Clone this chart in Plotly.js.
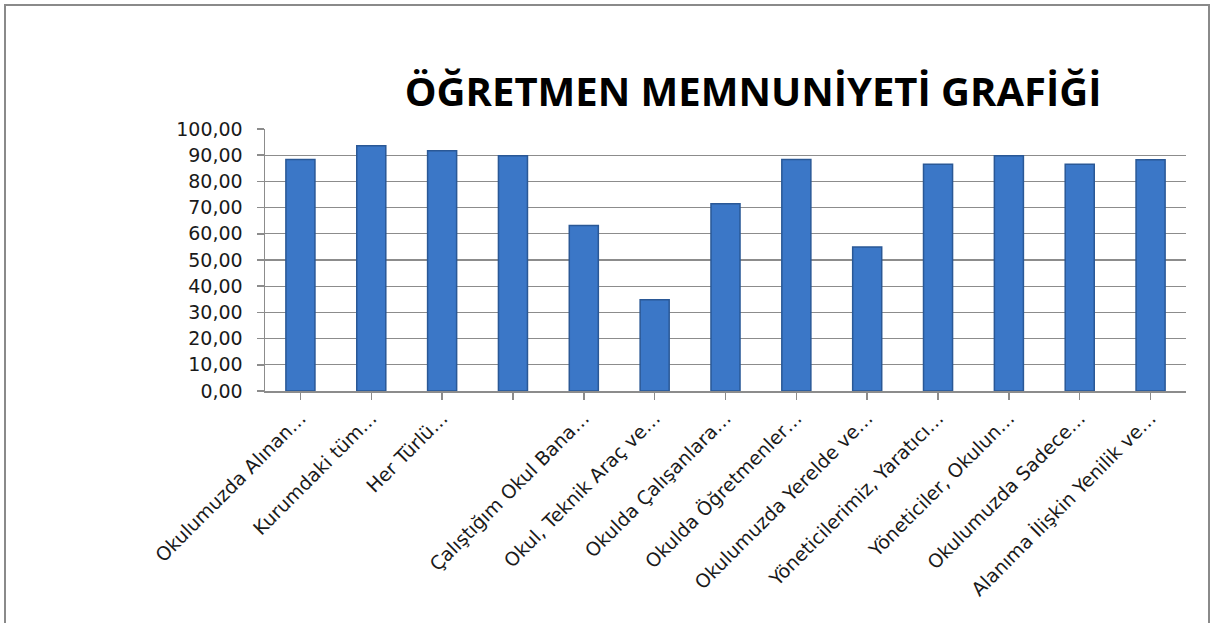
<!DOCTYPE html>
<html>
<head>
<meta charset="utf-8">
<script src="https://cdn.plot.ly/plotly-3.0.1.min.js"></script>
<style>
  html, body { margin:0; padding:0; background:#fff; overflow:hidden; width:1216px; height:623px; }
  #frame { position:absolute; left:4px; top:4px; width:1206px; height:700px; border:2px solid #8a8a8a; box-sizing:border-box; }
  #chart { position:absolute; left:0; top:0; width:1216px; height:623px; }
</style>
</head>
<body>
<div id="frame"></div>
<div id="chart"></div>
<script>
const categories = [
  "Okulumuzda Alınan…",
  "Kurumdaki tüm…",
  "Her Türlü…",
  " ",
  "Çalıştığım Okul Bana…",
  "Okul, Teknik Araç ve…",
  "Okulda Çalışanlara…",
  "Okulda Öğretmenler…",
  "Okulumuzda Yerelde ve…",
  "Yöneticilerimiz, Yaratıcı…",
  "Yöneticiler, Okulun…",
  "Okulumuzda Sadece…",
  "Alanıma İlişkin Yenilik ve…"
];
const values = [88.4, 93.6, 91.7, 89.8, 63.2, 34.8, 71.5, 88.4, 55.0, 86.5, 89.8, 86.5, 88.3];
const yTicks = [0, 10, 20, 30, 40, 50, 60, 70, 80, 90, 100];
const titleText = "ÖĞRETMEN MEMNUNİYETİ GRAFİĞİ";

const trace = {
  type: 'bar',
  x: categories.map((c, i) => i),
  y: values,
  marker: { color: '#3b77c7', line: { color: '#2a5896', width: 1.5 } },
  hoverinfo: 'skip'
};

const tickFont = { size: 19, family: 'DejaVu Sans, sans-serif', color: '#1a1a1a' };

const layout = {
  width: 1216, height: 623,
  margin: { l: 265, r: 30, t: 129, b: 232 },
  paper_bgcolor: 'rgba(0,0,0,0)',
  plot_bgcolor: 'rgba(0,0,0,0)',
  separators: ',.',
  bargap: 0.59,
  showlegend: false,
  font: { family: 'DejaVu Sans, sans-serif', color: '#1a1a1a' },
  title: {
    text: '<b>' + titleText + '</b>',
    font: { family: 'Open Sans, sans-serif', size: 40, color: '#000' },
    xref: 'paper', x: 0.53, xanchor: 'center',
    yref: 'container', y: 1 - 92/623, yanchor: 'middle'
  },
  xaxis: {
    tickmode: 'array',
    tickvals: categories.map((c, i) => i),
    ticktext: categories,
    range: [-0.5, categories.length - 0.5],
    tickangle: -45,
    tickfont: tickFont,
    showline: true, linecolor: '#8c8c8c', linewidth: 1.5,
    ticks: 'outside', ticklen: 7, tickcolor: '#8c8c8c', tickwidth: 1.5,
    tickson: 'boundaries',
    showgrid: false, zeroline: false, fixedrange: true
  },
  yaxis: {
    range: [0, 100],
    tickmode: 'array', tickvals: yTicks,
    tickformat: '.2f',
    tickfont: tickFont,
    showline: true, linecolor: '#8c8c8c', linewidth: 1.5,
    ticks: 'outside', ticklen: 7, tickcolor: '#8c8c8c', tickwidth: 1.5,
    ticklabelstandoff: 10,
    showgrid: true, gridcolor: '#8c8c8c', gridwidth: 1.3,
    zeroline: false, fixedrange: true
  }
};

Plotly.newPlot('chart', [trace], layout, { staticPlot: true, displayModeBar: false });
</script>
</body>
</html>
